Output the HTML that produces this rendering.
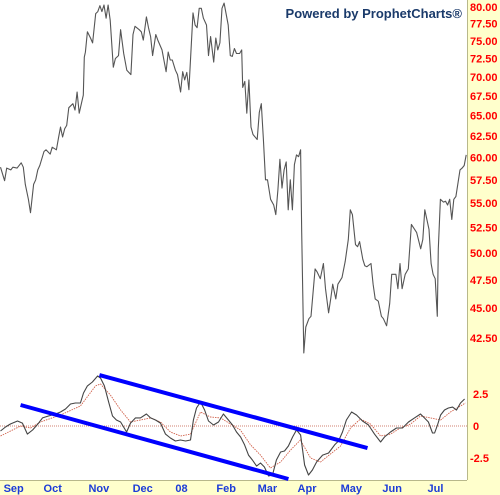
<!DOCTYPE html>
<html><head><meta charset="utf-8"><style>
html,body{margin:0;padding:0;background:#fff;}
svg{display:block;font-family:"Liberation Sans",sans-serif;}
</style></head><body>
<svg id="chart" width="500" height="495" viewBox="0 0 500 495">
<rect x="0" y="0" width="500" height="495" fill="#fff"/>
<rect x="467" y="0" width="33" height="495" fill="#ffffcc"/>
<rect x="0" y="480" width="500" height="15" fill="#ffffcc"/>
<line x1="467.5" y1="0" x2="467.5" y2="480" stroke="#b8b88a" stroke-width="1"/>
<line x1="0" y1="480.5" x2="467" y2="480.5" stroke="#b8b88a" stroke-width="1"/>
<text x="462" y="18" text-anchor="end" font-size="13" font-weight="bold" fill="#1a3a6a">Powered by ProphetCharts®</text>
<g id="priceG"></g>
<g id="indG"></g>
<g id="axG"></g>
</svg>
<script>
const priceDays=[0,2,3,5,6,8,10,11,12,13.5,14.5,16,17,18,19,21,22,24,25,27,28,29,30,31,32,33,35,36,37,38,40,40.5,41,42,43.5,44.5,46,47,48,49,50,51,52,53,54.5,55.5,57,58,59.5,61,63,64,65,67,68,69,70.5,71.5,72.5,73.5,75,76,78,80,81,82,83,84.5,85.5,87,88,89,90,91,93,94,95,96,97,98,99.5,100.5,101.5,103,104,105,106,107,108,110,111,112,113,114,115.5,116.5,117,118,119,120,121,122,124,125,126,127,128,129,130.5,132,133,134,135,136,137,138,139,140,141,142,143,144,145,145.5,146.5,147.5,149,150,152,153,154.5,156,157,158.5,159.5,160.5,162,163,165,166.5,168,169,170,171.5,172.5,173.5,175,176,177,179,180,181,182.5,184,185,186.5,188,189,191,192,193,194,195.5,197,198.5,201,203,204,205,207,208,209,210,211,211.5,212.5,214,215,216,217,218,219,220,222,223,224,225];
const priceVals=[58.9,57.4,58.8,58.6,58.9,58.8,59.4,58.9,57.0,55.4,54.0,57.0,57.5,58.6,59.1,60.7,60.9,60.4,61.2,60.9,62.3,63.6,62.4,63.4,63.8,66.0,66.5,65.7,68.0,65.3,67.6,72.7,73.4,76.3,75.4,74.7,79.0,79.3,80.2,79.3,80.3,78.3,80.3,78.0,71.3,72.5,72.9,76.6,73.2,70.9,70.3,75.9,77.1,76.6,76.3,75.1,78.5,76.9,75.6,72.9,75.9,75.1,73.7,70.7,73.4,72.3,72.3,70.9,70.3,68.0,70.7,69.6,70.6,68.3,79.1,77.3,76.9,79.8,79.8,78.3,77.3,72.9,75.6,72.0,75.4,73.7,74.7,79.8,80.6,77.3,72.9,72.8,73.9,73.2,73.2,73.7,68.6,69.4,65.3,69.6,63.6,62.7,62.1,65.4,66.5,62.1,57.5,57.5,55.4,54.8,53.8,56.4,59.8,56.6,58.6,59.5,54.3,57.5,54.3,59.2,60.3,60.1,60.9,52.0,41.3,43.4,44.1,44.3,48.5,48.2,47.6,49.0,46.7,44.6,45.8,47.1,45.8,47.1,47.7,49.2,51.3,54.3,53.8,50.8,50.6,51.1,49.4,48.8,48.7,49.0,47.1,45.8,45.6,44.3,44.1,43.5,45.4,48.0,48.0,46.7,49.0,46.7,48.0,48.5,52.8,52.0,50.4,51.3,54.3,52.3,49.0,48.0,47.6,44.3,50.4,55.4,55.1,55.2,54.8,55.4,53.3,55.4,55.7,58.6,58.8,59.1,60.3,60.0];
const priceTicks=[80,77.5,75,72.5,70,67.5,65,62.5,60,57.5,55,52.5,50,47.5,45,42.5];
const macdDays=[0,2.4,4.8,8.2,10.6,13,15.5,18.4,20.3,23.2,26.6,29,31.4,33.8,36.2,38.6,40.1,42,44.4,46.9,48.3,50.2,52.2,54.1,56,58,60.9,62.8,65.2,67.6,70.5,72.5,74.9,77.3,79.7,82.1,84.5,86.9,89.4,91.8,93.2,94.7,96.6,98.6,100.5,102.9,105.3,107.7,110.1,112.1,114,116,117.9,119.8,121.7,123.7,125.6,127.5,129.5,131.4,133.3,135.3,137.2,139.1,141.1,143,145,146.9,148.8,150.7,152.7,155.6,158.5,161.4,163.3,165.2,167.1,169.6,172,174.9,177.8,180.7,183.6,185.5,188.4,191.3,194.2,197.1,200,202.9,204.8,206.7,208.7,209.7,211.1,212.6,214.5,216.4,218.4,220.3,222.2,224.2];
const macdVals=[-0.39,-0.08,0.16,0.39,0.23,-0.63,-0.31,0.23,0.63,0.78,0.94,1.09,1.33,1.72,1.80,1.80,2.58,3.13,3.44,3.91,3.75,3.13,1.88,0.78,0.47,0.31,-0.47,0.23,0.63,0.63,0.94,0.63,0.47,0.23,-0.63,-0.94,-1.17,-1.09,-1.17,-1.09,0.47,1.41,1.88,1.25,0.39,0.08,0.31,0.94,0.47,0.08,-0.47,-0.86,-1.48,-2.27,-2.66,-3.13,-2.89,-3.20,-3.91,-3.83,-2.66,-2.03,-1.95,-1.56,-0.86,-0.31,-0.70,-3.05,-3.83,-3.44,-2.81,-2.27,-2.11,-1.48,-1.17,-0.47,0.47,1.09,0.86,0.39,0.08,-0.63,-1.25,-0.86,-0.47,-0.16,-0.16,0.31,0.63,0.94,0.63,0.31,-0.55,-0.55,0.08,0.86,1.25,1.41,1.48,1.25,1.80,2.11];
const signalDays=[0,9.7,14.5,19.3,29,38.6,45.9,48.3,53.1,58,62.8,67.6,72.5,77.3,82.1,87,91.8,96.6,101.4,106.3,111.1,115.9,120.8,125.6,130.4,135.3,140.1,144.9,149.8,154.6,159.4,164.3,169.1,173.9,178.7,183.6,188.4,193.2,198.1,202.9,207.7,212.6,217.4,222.2,224.6];
const signalVals=[-0.78,0,-0.16,0.31,0.86,1.56,3.13,3.28,2.42,1.25,0.31,0.47,0.63,0.31,-0.47,-0.78,-0.63,1.09,0.70,0.63,0.16,-0.31,-1.48,-2.27,-3.28,-2.81,-1.88,-1.09,-2.50,-2.81,-2.19,-1.56,-0.16,0.55,0.16,-0.78,-0.63,-0.16,0.16,0.78,0.63,0.47,1.09,1.56,1.80];
const macdTicks=[2.5,0,-2.5];
const monthLabels=["Sep","Oct","Nov","Dec","08","Feb","Mar","Apr","May","Jun","Jul"];
const monthDays=[1.5,20.8,42.5,63.8,84.5,104.3,124.2,143.5,164.3,184.5,206.3];
const trendStartDays=[9.7,47.8];
const trendStartVals=[1.64,3.98];
const trendEndDays=[139.1,177.3];
const trendEndVals=[-4.14,-1.72];

const NS="http://www.w3.org/2000/svg";
const xS=d=>d*2.07+0.5;
const lnTop=Math.log(80),lnBot=Math.log(42.5);
const yP=v=>7+(lnTop-Math.log(v))/(lnTop-lnBot)*331;
const yM=v=>426-v*12.8;
function mk(tag,attrs,parent){const e=document.createElementNS(NS,tag);for(const k in attrs)e.setAttribute(k,attrs[k]);parent.appendChild(e);return e;}
const pg=document.getElementById('priceG'),ig=document.getElementById('indG'),ag=document.getElementById('axG');

// price line
let d=priceDays.map((t,i)=>(i?'L':'M')+xS(t).toFixed(1)+' '+yP(priceVals[i]).toFixed(1)).join(' ');
const pl=mk('path',{d:d,fill:'none',stroke:'#555','stroke-width':1.1,'stroke-linejoin':'round'},pg);



// zero line
const zl=mk('line',{x1:0,x2:467,y1:yM(0),y2:yM(0),stroke:'#d08070','stroke-width':1,'stroke-dasharray':'1,1'},ig);



d=signalDays.map((t,i)=>(i?'L':'M')+xS(t).toFixed(1)+' '+yM(signalVals[i]).toFixed(1)).join(' ');
const sl=mk('path',{d:d,fill:'none',stroke:'#d0604a','stroke-width':0.9,'stroke-dasharray':'1.5,1'},ig);



d=macdDays.map((t,i)=>(i?'L':'M')+xS(t).toFixed(1)+' '+yM(macdVals[i]).toFixed(1)).join(' ');
const ml=mk('path',{d:d,fill:'none',stroke:'#444','stroke-width':1.1,'stroke-linejoin':'round'},ig);



trendStartDays.forEach((t,i)=>{
  const l=mk('line',{x1:xS(t),y1:yM(trendStartVals[i]),x2:xS(trendEndDays[i]),y2:yM(trendEndVals[i]),stroke:'#0000ff','stroke-width':4},ig);
  
  
});

priceTicks.forEach(v=>{
  const t=mk('text',{x:470,y:yP(v)+4,'font-size':11,'font-weight':'bold',fill:'#ff0000'},ag);
  t.textContent=v.toFixed(2);
  
  
});
macdTicks.forEach(v=>{
  const t=mk('text',{x:v<0?470:473,y:yM(v)+4,'font-size':11,'font-weight':'bold',fill:'#ff0000'},ag);
  t.textContent=v===0?'0':v.toString();
  
  
});
monthLabels.forEach((m,i)=>{
  const t=mk('text',{x:xS(monthDays[i]),y:492,'font-size':11,'font-weight':'bold',fill:'#1c3cd8'},ag);
  t.textContent=m;
  
  
});
</script>
</body></html>
